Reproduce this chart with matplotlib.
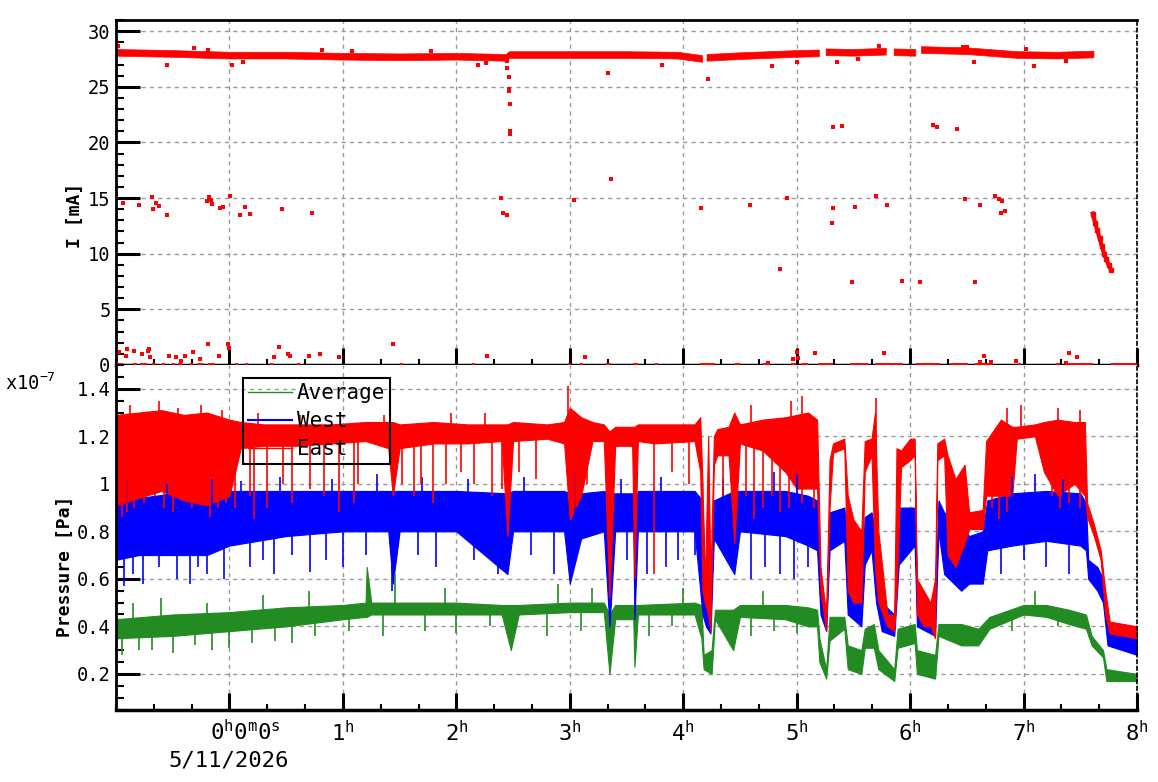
import numpy as np
import matplotlib
matplotlib.use('Agg')
from matplotlib import pyplot as plt
from matplotlib.lines import Line2D
from matplotlib.ticker import MultipleLocator, FormatStrFormatter
import matplotlib.transforms as mtransforms

plt.rcParams['font.family'] = 'DejaVu Sans Mono'
plt.rcParams['mathtext.fontset'] = 'custom'
plt.rcParams['mathtext.rm'] = 'DejaVu Sans Mono'
plt.rcParams['mathtext.it'] = 'DejaVu Sans Mono'

nan = np.nan

# ---------------- beam current (hours from 0h, mA) ----------------
# main band, NaN = beam gap
band_t = [-1.0, -0.5, 0.0, 0.5, 1.0, 1.5, 2.0, 2.44, 2.47, 3.0, 3.5, 3.95, 4.17, 4.19, 4.21,
          4.5, 5.0, 5.20, 5.23, 5.26, 5.5, 5.79, 5.83, 5.86, 6.05, 6.08, 6.10, 6.5, 6.95, 7.3, 7.62]
band_I = [28.05, 27.95, 27.8, 27.8, 27.7, 27.65, 27.7, 27.6, 27.85, 27.85, 27.85, 27.8, 27.5, nan, 27.6,
          27.75, 27.95, 28.0, nan, 28.1, 28.05, 28.15, nan, 28.1, 28.05, nan, 28.3, 28.2, 27.85, 27.8, 27.9]

# isolated readings
out_t = [-0.98, -0.55, -0.31, -0.19, 0.02, 0.12, 0.82, 1.08, 1.78, 2.19, 2.26,
         2.45, 2.45, 2.46, 2.46, 2.46, 2.47, 2.47, 2.47, 3.34, 3.36,
         -1.0, -0.94, -0.80, -0.68, -0.67, -0.645, -0.62, -0.55, -0.20, -0.18, -0.16, -0.15,
         -0.08, -0.055, 0.007, 0.09, 0.14, 0.18, 0.465, 0.73, 2.395, 2.41, 2.45, 3.04,
         3.81, 4.22, 4.78, 5.0, 5.355, 5.54, 5.73, 6.465, 6.5, 6.56, 7.02, 7.09, 7.37,
         5.32, 5.40, 6.2, 6.24, 6.41,
         4.16, 4.59, 4.915, 5.32, 5.31, 5.51, 5.70, 5.80, 6.48, 6.615, 6.75, 6.78, 6.81, 6.80, 6.835,
         4.85, 5.49, 5.93, 6.09, 6.57,
         -0.97, -0.91, -0.90, -0.84, -0.77, -0.72, -0.71, -0.70, -0.53, -0.47, -0.43, -0.39, -0.32,
         -0.26, -0.19, -0.09, -0.01, 0.0, 0.39, 0.44, 0.52, 0.535, 0.70, 0.80, 0.97, 1.44, 2.27,
         3.13, 4.75, 4.97, 5.0, 5.01, 5.16, 5.77, 6.62, 6.65, 6.71, 6.93, 7.37, 7.40, 7.47]
out_I = [28.7, 27.0, 28.5, 28.3, 27.0, 27.2, 28.3, 28.2, 28.2, 27.0, 27.1,
         27.3, 26.7, 25.9, 24.8, 24.6, 23.45, 21.0, 20.8, 26.2, 16.75,
         15.27, 14.6, 14.4, 15.1, 14.0, 14.6, 14.25, 13.45, 14.7, 15.06, 14.8, 14.5,
         14.1, 14.2, 15.15, 13.45, 14.2, 13.6, 14.0, 13.7, 14.97, 13.7, 13.5, 14.8,
         27.0, 25.7, 26.9, 27.2, 27.2, 27.5, 28.7, 28.55, 28.55, 27.2, 28.4, 26.9, 27.3,
         21.4, 21.5, 21.6, 21.4, 21.2,
         14.1, 14.4, 14.97, 14.1, 12.74, 14.2, 15.15, 14.4, 14.9, 14.4, 15.2, 14.9, 14.7, 13.7, 13.8,
         8.6, 7.47, 7.56, 7.47, 7.47,
         1.2, 0.77, 1.4, 1.3, 1.0, 1.3, 1.4, 0.7, 0.77, 0.7, 0.4, 0.77, 1.2,
         0.5, 1.85, 0.77, 1.93, 1.5, 0.7, 1.6, 0.95, 0.85, 0.85, 0.95, 0.7, 1.93, 0.85,
         0.7, 0.15, 0.51, 1.14, 0.6, 1.05, 1.05, 0.24, 0.78, 0.24, 0.33, 0.15, 1.05, 0.69]

# beam loss at the end
decay_t = [7.61, 7.63, 7.65, 7.67, 7.69, 7.71, 7.73, 7.75, 7.77]
decay_I = [13.6, 12.8, 12.1, 11.4, 10.7, 10.0, 9.5, 9.0, 8.55]

# intervals with zero reading
zero_start = [-0.994, -0.848, -0.789, -0.686, -0.598, -0.509, -0.451, -0.348, -0.275, -0.187,
              0.048, 0.137, 0.357, 0.592, 1.502, 2.134, 2.985, 3.088, 3.323, 3.558, 3.749,
              4.145, 4.454, 4.703, 4.953, 5.041, 5.188, 5.467, 5.687, 6.054, 6.348, 6.568,
              6.950, 7.288, 7.361, 7.773]
zero_end = [-0.936, -0.818, -0.730, -0.656, -0.568, -0.480, -0.421, -0.319, -0.231, -0.128,
            0.078, 0.166, 0.386, 0.621, 1.531, 2.163, 3.015, 3.117, 3.367, 3.602, 3.778,
            4.278, 4.498, 4.762, 4.997, 5.100, 5.320, 5.628, 5.936, 6.260, 6.509, 6.730,
            6.980, 7.317, 7.611, 8.0]

# ---------------- pressure (x1e-7 Pa), envelope lo/hi ----------------
east_t = [-1.0, -0.8, -0.6, -0.4, -0.2, 0.0, 0.1, 0.3, 0.6, 0.9, 1.2, 1.4, 1.44, 1.5, 1.8, 2.1,
          2.4, 2.45, 2.5, 2.8, 2.95, 3.0, 3.1, 3.2, 3.3, 3.35, 3.4, 3.55, 3.57, 3.6, 3.75, 4.1,
          4.15, 4.17, 4.19, 4.22, 4.24, 4.27, 4.3, 4.4, 4.45, 4.5, 4.7, 4.9, 5.0, 5.1, 5.18,
          5.21, 5.26, 5.29, 5.32, 5.42, 5.45, 5.5, 5.57, 5.6, 5.66, 5.69, 5.72, 5.8, 5.86, 5.88,
          5.92, 6.0, 6.04, 6.06, 6.12, 6.18, 6.22, 6.24, 6.3, 6.33, 6.4, 6.48, 6.52, 6.64, 6.67,
          6.8, 6.9, 6.94, 7.1, 7.18, 7.3, 7.45, 7.54, 7.56, 7.62, 7.68, 7.72, 7.76, 8.0]
east_lo = [0.91, 0.94, 0.97, 0.93, 0.91, 0.95, 1.15, 1.16, 1.16, 1.17, 1.18, 1.15, 0.95, 1.15, 1.17, 1.17,
           1.18, 0.78, 1.18, 1.19, 1.17, 0.85, 0.95, 1.18, 1.18, 0.52, 1.16, 1.16, 0.60, 1.18, 1.17, 1.18,
           1.05, 0.55, 0.50, 0.45, 0.38, 1.08, 1.12, 1.12, 0.75, 1.17, 1.14, 1.05, 0.98, 0.98, 0.98,
           0.55, 0.38, 0.90, 1.13, 1.15, 0.55, 0.50, 0.50, 1.05, 1.12, 0.65, 0.50, 0.40, 0.38, 0.55,
           1.07, 1.10, 1.12, 0.45, 0.40, 0.40, 0.35, 1.10, 1.12, 0.70, 0.65, 0.75, 0.81, 0.81, 0.95,
           0.95, 0.95, 1.19, 1.20, 1.05, 0.95, 1.00, 0.95, 0.86, 0.78, 0.68, 0.45, 0.37, 0.35]
east_hi = [1.29, 1.30, 1.31, 1.29, 1.30, 1.27, 1.26, 1.25, 1.25, 1.25, 1.26, 1.26, 1.26, 1.25, 1.26, 1.25,
           1.25, 1.25, 1.26, 1.25, 1.26, 1.32, 1.28, 1.26, 1.25, 1.22, 1.24, 1.24, 1.24, 1.25, 1.25, 1.25,
           1.28, 1.00, 0.55, 1.20, 0.60, 1.20, 1.23, 1.24, 1.30, 1.25, 1.27, 1.28, 1.29, 1.30, 1.27,
           0.65, 0.45, 1.10, 1.17, 1.19, 0.95, 0.85, 0.80, 1.18, 1.19, 1.30, 0.80, 0.45, 0.45, 1.15,
           1.14, 1.19, 1.19, 0.60, 0.55, 0.50, 0.60, 1.17, 1.19, 1.12, 1.02, 1.08, 0.88, 0.89, 1.18,
           1.27, 1.24, 1.24, 1.25, 1.26, 1.27, 1.26, 1.26, 0.92, 0.83, 0.72, 0.55, 0.42, 0.40]
# single readings outside the envelope
east_spike_t = [-0.95, -0.9, -0.84, -0.75, -0.66, -0.58, -0.5, -0.42, -0.33, -0.27, -0.17, -0.1, -0.03,
                0.05, 0.18, 0.22, 0.33, 0.47, 0.55, 0.71, 0.83, 0.97, 1.10, 1.13, 1.52, 1.63, 1.69,
                1.79, 1.91, 2.04, 2.16, 2.31, 2.40, 2.55, 2.7, 3.05, 3.15, 3.74, 3.9, 4.05, 4.35,
                4.55, 4.62, 4.7, 4.78, 4.85, 4.93, 5.05, 5.15, 6.72, 6.78, 6.85, 7.25, 7.32, 7.4, 7.5,
                -0.88, -0.62, -0.45, -0.25, -0.07, 0.25, 0.62, 1.36, 1.95, 2.25, 2.98, 4.6, 4.95,
                5.05, 5.7, 6.85, 6.98, 7.3, 7.5]
east_spike_v = [0.86, 0.88, 0.9, 0.92, 0.95, 0.9, 0.88, 0.93, 0.9, 0.95, 0.86, 0.9, 0.92,
                0.9, 0.95, 0.85, 0.9, 1.0, 0.92, 0.98, 0.95, 0.88, 0.92, 1.0, 1.0, 0.95, 1.0,
                0.92, 1.0, 1.05, 1.0, 0.95, 0.98, 1.05, 1.02, 0.9, 1.0, 0.62, 1.05, 1.0, 0.95,
                0.95, 0.85, 0.9, 0.95, 0.88, 0.9, 0.92, 0.9, 0.9, 0.85, 0.88, 0.95, 0.9, 0.92, 0.9,
                1.33, 1.35, 1.32, 1.33, 1.31, 1.3, 1.29, 1.29, 1.3, 1.3, 1.41, 1.33, 1.35,
                1.37, 1.36, 1.32, 1.33, 1.32, 1.31]

west_t = [-1.0, -0.8, -0.5, -0.2, 0.0, 0.5, 1.0, 1.4, 1.44, 1.5, 2.0, 2.45, 2.5, 2.95, 3.0, 3.1,
          3.3, 3.35, 3.4, 3.56, 3.57, 3.6, 4.1, 4.17, 4.2, 4.24, 4.27, 4.45, 4.5, 4.9, 5.1, 5.18,
          5.21, 5.26, 5.29, 5.42, 5.45, 5.57, 5.6, 5.66, 5.7, 5.75, 5.86, 5.9, 6.04, 6.06, 6.22,
          6.25, 6.3, 6.45, 6.52, 6.64, 6.68, 6.9, 7.2, 7.5, 7.55, 7.57, 7.65, 7.7, 7.74, 8.0]
west_lo = [0.68, 0.70, 0.70, 0.70, 0.74, 0.78, 0.80, 0.80, 0.58, 0.80, 0.80, 0.62, 0.80, 0.80, 0.58, 0.77,
           0.80, 0.40, 0.80, 0.80, 0.43, 0.80, 0.80, 0.45, 0.40, 0.37, 0.77, 0.62, 0.80, 0.78, 0.74, 0.72,
           0.45, 0.38, 0.72, 0.76, 0.45, 0.40, 0.66, 0.72, 0.50, 0.38, 0.36, 0.66, 0.74, 0.40, 0.36,
           0.80, 0.62, 0.55, 0.58, 0.58, 0.72, 0.74, 0.76, 0.74, 0.72, 0.60, 0.55, 0.50, 0.32, 0.28]
west_hi = [0.93, 0.94, 0.96, 0.96, 0.97, 0.97, 0.97, 0.97, 0.97, 0.97, 0.97, 0.96, 0.97, 0.97, 0.96, 0.96,
           0.97, 0.96, 0.96, 0.96, 0.90, 0.97, 0.97, 0.93, 0.50, 0.48, 0.93, 0.97, 0.97, 0.97, 0.95, 0.93,
           0.60, 0.45, 0.88, 0.90, 0.75, 0.60, 0.86, 0.88, 0.78, 0.50, 0.45, 0.90, 0.90, 0.50, 0.50,
           0.93, 0.88, 0.83, 0.78, 0.80, 0.93, 0.96, 0.97, 0.96, 0.92, 0.68, 0.65, 0.60, 0.40, 0.38]
west_spike_t = [-0.93, -0.85, -0.76, -0.62, -0.46, -0.35, -0.28, -0.2, -0.05, 0.18, 0.3, 0.39, 0.55,
                0.71, 0.85, 1.0, 1.2, 1.43, 1.66, 1.82, 2.16, 2.37, 2.66, 2.86, 3.5, 3.68, 3.85,
                3.95, 4.1, 4.6, 4.72, 4.85, 4.98, 5.1, 6.8, 7.0, 7.2, 7.4,
                -0.9, -0.55, -0.15, 0.1, 0.45, 0.9, 1.3, 1.7, 2.1, 2.6, 3.05, 3.45, 3.8, 4.35, 4.8,
                5.0, 6.9, 7.1, 7.35]
west_spike_v = [0.57, 0.62, 0.58, 0.65, 0.6, 0.58, 0.65, 0.62, 0.6, 0.65, 0.68, 0.62, 0.7,
                0.63, 0.68, 0.65, 0.7, 0.55, 0.7, 0.65, 0.68, 0.62, 0.7, 0.62, 0.68, 0.62, 0.65,
                0.68, 0.7, 0.6, 0.65, 0.62, 0.6, 0.65, 0.62, 0.68, 0.65, 0.62,
                1.02, 1.0, 1.02, 1.01, 1.03, 1.02, 1.04, 1.03, 1.02, 1.03, 1.05, 1.02, 1.03, 1.02, 1.05,
                1.04, 1.03, 1.04, 1.02]

avg_t = [-1.0, -0.5, 0.0, 0.5, 1.0, 1.2, 1.21, 1.25, 1.5, 2.0, 2.4, 2.48, 2.55, 3.0, 3.3, 3.35,
         3.4, 3.56, 3.57, 3.6, 4.1, 4.16, 4.18, 4.25, 4.28, 4.44, 4.5, 4.9, 5.1, 5.18, 5.2, 5.26,
         5.29, 5.42, 5.45, 5.57, 5.6, 5.68, 5.72, 5.86, 5.89, 6.04, 6.06, 6.22, 6.25, 6.45, 6.6,
         6.7, 7.0, 7.2, 7.4, 7.55, 7.6, 7.7, 7.73, 8.0]
avg_lo = [0.35, 0.36, 0.38, 0.40, 0.43, 0.44, 0.44, 0.45, 0.45, 0.45, 0.45, 0.30, 0.45, 0.46, 0.46, 0.20,
          0.43, 0.43, 0.23, 0.45, 0.45, 0.35, 0.22, 0.20, 0.43, 0.30, 0.44, 0.43, 0.40, 0.40, 0.25, 0.18,
          0.34, 0.39, 0.22, 0.20, 0.31, 0.31, 0.22, 0.17, 0.31, 0.33, 0.20, 0.18, 0.36, 0.32, 0.32,
          0.39, 0.45, 0.44, 0.41, 0.39, 0.32, 0.27, 0.17, 0.17]
avg_hi = [0.43, 0.45, 0.46, 0.48, 0.49, 0.50, 0.65, 0.50, 0.50, 0.50, 0.49, 0.49, 0.49, 0.50, 0.50, 0.45,
          0.49, 0.49, 0.49, 0.49, 0.50, 0.49, 0.28, 0.30, 0.47, 0.47, 0.49, 0.49, 0.48, 0.47, 0.35, 0.22,
          0.44, 0.44, 0.32, 0.30, 0.39, 0.41, 0.30, 0.22, 0.39, 0.41, 0.30, 0.28, 0.41, 0.41, 0.39,
          0.44, 0.49, 0.49, 0.47, 0.45, 0.36, 0.30, 0.22, 0.20]
avg_spike_t = [-0.95, -0.8, -0.68, -0.5, -0.3, -0.15, 0.0, 0.2, 0.4, 0.55, 0.75, 1.05, 1.35, 1.72,
               2.0, 2.3, 2.8, 3.1, 3.7, 3.9, 4.6, 4.8, 5.0, 6.9, 7.3,
               -0.85, -0.6, -0.2, 0.3, 0.7, 1.46, 1.9, 2.9, 3.2, 4.0, 4.7, 7.1]
avg_spike_v = [0.28, 0.3, 0.3, 0.29, 0.32, 0.3, 0.31, 0.33, 0.34, 0.33, 0.36, 0.38, 0.36, 0.38,
               0.37, 0.4, 0.36, 0.38, 0.36, 0.4, 0.36, 0.38, 0.37, 0.38, 0.4,
               0.5, 0.52, 0.5, 0.53, 0.55, 0.62, 0.56, 0.58, 0.56, 0.56, 0.55, 0.55]

hour_labels = ['', '1', '2', '3', '4', '5', '6', '7', '8']

W, H = 1158, 782
fig = plt.figure(figsize=(W / 100, H / 100), dpi=100)
ax1 = fig.add_axes([116 / W, 1 - 365 / H, 1021 / W, 345 / H])
ax2 = fig.add_axes([116 / W, 1 - 710 / H, 1021 / W, 345 / H], sharex=ax1)

red, blue, green = '#ff0000', '#0000ff', '#228b22'

# ---- top: current ----
ax1.fill_between(band_t, np.array(band_I) - 0.3, np.array(band_I) + 0.3, color=red, lw=0.5)
ax1.plot(out_t, out_I, 's', color=red, ms=2.6, mew=0)
ax1.plot(decay_t, decay_I, '-s', color=red, ms=3, lw=3)
ax1.hlines(np.zeros(len(zero_start)), zero_start, zero_end, color=red, lw=2.8,
           clip_on=False, zorder=4)
ax1.set_ylim(0, 31)
ax1.yaxis.set_major_locator(MultipleLocator(5))
ax1.yaxis.set_minor_locator(MultipleLocator(1))


def pressure(ax, t, lo, hi, st, sv, c):
    ax.fill_between(t, lo, hi, color=c, lw=0.8)
    # spikes start from the middle of the envelope at that time
    mid = np.interp(st, t, (np.array(lo) + np.array(hi)) / 2)
    ax.vlines(st, mid, sv, color=c, lw=1.2)


pressure(ax2, avg_t, avg_lo, avg_hi, avg_spike_t, avg_spike_v, green)
pressure(ax2, west_t, west_lo, west_hi, west_spike_t, west_spike_v, blue)
pressure(ax2, east_t, east_lo, east_hi, east_spike_t, east_spike_v, red)
ax2.set_ylim(0.048, 1.5)
ax2.yaxis.set_major_locator(MultipleLocator(0.2))
ax2.yaxis.set_minor_locator(MultipleLocator(0.05))
ax2.yaxis.set_major_formatter(FormatStrFormatter('%g'))

handles = [Line2D([], [], color=green, lw=1), Line2D([], [], color=blue, lw=1.5),
           Line2D([], [], color=red, lw=1)]
leg = ax2.legend(handles, ['Average', 'West', 'East'], loc='upper left',
                 bbox_to_anchor=(0.124, 0.962), borderaxespad=0, fontsize=15,
                 handlelength=2.1, handletextpad=0.25, labelspacing=0.38,
                 borderpad=0.25, fancybox=False, facecolor='none', framealpha=1)
leg.get_frame().set_edgecolor('black')
leg.get_frame().set_linewidth(1.5)

for ax in (ax1, ax2):
    ax.set_xlim(-1, 8)
    ax.set_axisbelow(True)
    ax.grid(True, which='major', color='#999999', ls=(0, (3, 3)), lw=1)
    ax.xaxis.set_major_locator(MultipleLocator(1))
    ax.xaxis.set_minor_locator(MultipleLocator(1 / 3))
    ax.tick_params(which='major', direction='in', length=17, width=2.2, labelsize=13.5, pad=4)
    ax.tick_params(which='minor', direction='in', length=6, width=1.5)
    ax.tick_params(axis='x', which='major', length=12)
    ax.tick_params(axis='x', which='minor', length=4.5)
    ax.spines['left'].set_linewidth(2)
    ax.spines['bottom'].set_linewidth(2.5)
    ax.spines['right'].set_linestyle((0, (2, 2)))
    ax.spines['right'].set_linewidth(1.2)
    ax.spines['top'].set_linewidth(2)

ax2.spines['top'].set_visible(False)
ax1.tick_params(axis='x', labelbottom=False)
ax2.set_xticks(range(0, 9))
ax2.set_xticklabels([r'$\mathrm{' + h + '^{h}}$' if h else '' for h in hour_labels])
ax2.tick_params(axis='x', labelsize=16, pad=7)

blend = mtransforms.blended_transform_factory(ax2.transData, ax2.transAxes)
ax2.text(0.137, -0.025, r'$\mathrm{0^{h}0^{m}0^{s}}$', transform=blend,
         ha='center', va='top', fontsize=16)
fig.text(229 / W, 1 - 760 / H, '5/11/2026', ha='center', va='center', fontsize=16)
fig.text(5 / W, 1 - 383 / H, r'x10$^{\mathrm{-7}}$', ha='left', va='center', fontsize=13.5)

fig.text(75 / W, 1 - 215 / H, 'I [mA]', rotation=90, ha='center', va='center',
         fontsize=13, fontweight='bold')
fig.text(65 / W, 1 - 566 / H, 'Pressure [Pa]', rotation=90, ha='center', va='center',
         fontsize=13, fontweight='bold')

fig.savefig('out.png', dpi=100)
